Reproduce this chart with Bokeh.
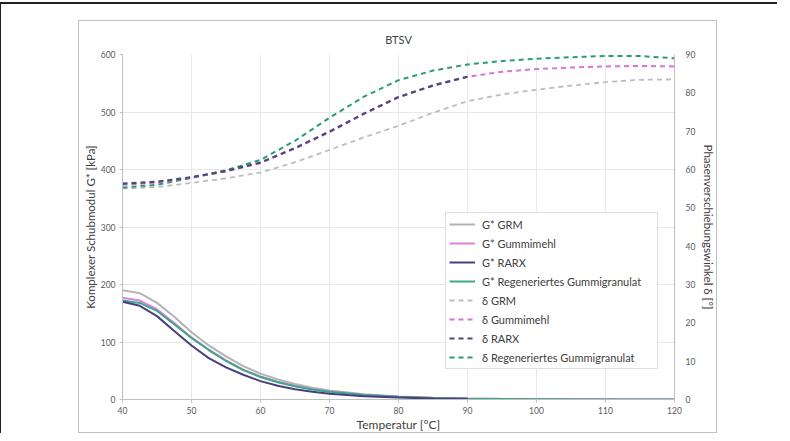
from bokeh.plotting import figure
from bokeh.models import Range1d, LinearAxis, Legend, LegendItem, SingleIntervalTicker, Spacer
from bokeh.layouts import row, column
from bokeh.embed import file_html
from bokeh.resources import INLINE

# ---- data ----
temp_g = [40, 42.5, 45, 47.5, 50, 52.5, 55, 57.5, 60, 62.5, 65, 67.5, 70, 75, 80, 85, 90, 95, 100, 105, 110, 115, 120]
g_grm = [190, 185, 168, 144, 117, 94, 75, 58, 45, 35, 27, 20.5, 15.5, 9, 5.2, 3, 1.8, 1.1, 0.7, 0.4, 0.3, 0.2, 0.1]
g_gummimehl = [177, 172, 157, 133, 108, 87, 68, 52, 40, 31, 23.5, 18, 14, 8.2, 4.7, 2.7, 1.6, 1.0, 0.6, 0.4, 0.25, 0.15, 0.1]
g_regen = [172, 168, 154, 131, 107, 86, 67, 51, 39, 30, 23, 17.5, 13.5, 8, 4.6, 2.6, 1.5, 0.9, 0.6, 0.35, 0.2, 0.15, 0.1]
temp_rarx = [40, 42.5, 45, 47.5, 50, 52.5, 55, 57.5, 60, 62.5, 65, 67.5, 70, 75, 80, 85, 90]
g_rarx = [170, 163, 145, 119, 94, 72, 56, 43, 32, 24, 18, 13.5, 10, 5.8, 3.3, 1.9, 1.1]

temp_d = [40, 45, 50, 55, 60, 65, 70, 75, 80, 85, 90, 95, 100, 105, 110, 115, 120]
d_grm = [55.0, 55.4, 56.5, 57.7, 59.2, 61.9, 65.1, 68.4, 71.4, 74.8, 77.8, 79.6, 80.8, 81.9, 82.8, 83.4, 83.5]
d_gummimehl = [56.0, 56.6, 57.9, 59.5, 61.7, 65.5, 69.7, 74.5, 78.8, 82.0, 84.2, 85.5, 86.2, 86.6, 86.9, 87.0, 86.9]
d_regen = [55.3, 56.0, 57.8, 59.8, 62.5, 67.5, 73.5, 79.0, 83.3, 85.8, 87.4, 88.3, 88.9, 89.3, 89.6, 89.6, 89.0]
temp_d_rarx = [40, 45, 50, 55, 60, 65, 70, 75, 80, 85, 90]
d_rarx = [56.3, 56.8, 58.0, 59.6, 61.8, 65.6, 69.9, 74.6, 78.9, 81.9, 84.2]

labels_g = ["G* GRM", "G* Gummimehl", "G* RARX", "G* Regeneriertes Gummigranulat"]
labels_d = ["\u03b4 GRM", "\u03b4 Gummimehl", "\u03b4 RARX", "\u03b4 Regeneriertes Gummigranulat"]

c_grm = "#b3b3b3"
c_gm = "#de7fe0"
c_rarx = "#4a3f7e"
c_regen = "#3aa88a"
c_dgrm = "#bdbdbd"
c_dgm = "#d674d8"
c_drarx = "#4b4a78"
c_dregen = "#2a9d72"

FONT = "Lato"

p = figure(frame_width=550, frame_height=343, x_range=Range1d(40, 120), y_range=Range1d(0, 600),
           output_backend="svg", toolbar_location=None,
           min_border_left=43, min_border_right=43, min_border_top=33, min_border_bottom=35,
           title="BTSV", styles={"border": "1px solid #bfbfbf"})
p.extra_y_ranges = {"delta": Range1d(0, 90)}

p.title.align = "center"
p.title.text_font = FONT
p.title.text_font_size = "11px"
p.title.text_font_style = "normal"
p.title.text_color = "#404040"
p.title.standoff = 18

p.outline_line_color = None
p.background_fill_color = "white"

for ax in [p.xaxis[0], p.yaxis[0]]:
    ax.major_label_text_font = FONT
    ax.major_label_text_font_size = "8.5px"
    ax.major_label_text_color = "#595959"
    ax.axis_label_text_font = FONT
    ax.axis_label_text_font_style = "normal"
    ax.axis_label_text_color = "#404040"
    ax.axis_line_color = "#bfbfbf"
    ax.major_tick_line_color = "#bfbfbf"
    ax.minor_tick_line_color = None
    ax.major_tick_in = 0
    ax.major_tick_out = 3

p.xaxis.ticker = SingleIntervalTicker(interval=10)
p.yaxis.ticker = SingleIntervalTicker(interval=100)
p.xaxis.axis_label = "Temperatur [\u00b0C]"
p.xaxis.axis_label_text_font_size = "12px"
p.xaxis.axis_label_standoff = 0
p.xaxis.major_label_standoff = 3
p.yaxis.axis_label = "Komplexer Schubmodul G* [kPa]"
p.yaxis.axis_label_text_font_size = "11.5px"
p.yaxis.axis_label_standoff = 1
p.yaxis.major_label_standoff = 3

ax_r = LinearAxis(y_range_name="delta", ticker=SingleIntervalTicker(interval=10),
                  axis_label="Phasenverschiebungswinkel \u03b4 [\u00b0]")
ax_r.major_label_text_font = FONT
ax_r.major_label_text_font_size = "8.5px"
ax_r.major_label_text_color = "#595959"
ax_r.major_label_standoff = 7
ax_r.major_tick_in = 0
ax_r.major_tick_out = 0
ax_r.axis_label_text_font = FONT
ax_r.axis_label_text_font_size = "11.5px"
ax_r.axis_label_text_font_style = "normal"
ax_r.axis_label_text_color = "#404040"
ax_r.axis_label_standoff = 4
ax_r.axis_line_color = "#bfbfbf"
ax_r.major_tick_line_color = None
ax_r.minor_tick_line_color = None
p.add_layout(ax_r, "right")

p.xgrid.grid_line_color = "#e8e8e8"
p.ygrid.grid_line_color = "#e8e8e8"

# G* curves
r1 = p.line(temp_g, g_grm, line_color=c_grm, line_width=2)
r2 = p.line(temp_g, g_gummimehl, line_color=c_gm, line_width=2)
r4 = p.line(temp_g, g_regen, line_color=c_regen, line_width=2)
r3 = p.line(temp_rarx, g_rarx, line_color=c_rarx, line_width=2)

# delta curves
d1 = p.line(temp_d, d_grm, line_color=c_dgrm, line_width=1.8, line_dash="5 4", y_range_name="delta")
d4 = p.line(temp_d, d_regen, line_color=c_dregen, line_width=2, line_dash="5 4", y_range_name="delta")
d2 = p.line(temp_d, d_gummimehl, line_color=c_dgm, line_width=2, line_dash="5 4", y_range_name="delta")
d3 = p.line(temp_d_rarx, d_rarx, line_color=c_drarx, line_width=2.2, line_dash="5 4", y_range_name="delta")

items = [LegendItem(label=l, renderers=[r]) for l, r in zip(labels_g + labels_d, [r1, r2, r3, r4, d1, d2, d3, d4])]
legend = Legend(items=items, location=(323, 30), orientation="vertical")
legend.label_text_font = FONT
legend.label_text_font_size = "11px"
legend.label_text_color = "#404040"
legend.glyph_width = 26
legend.glyph_height = 16
legend.label_height = 16
legend.label_width = 172
legend.spacing = 3
legend.padding = 3
legend.margin = 0
legend.label_standoff = 7
legend.border_line_color = "#bfbfbf"
legend.background_fill_alpha = 1
p.add_layout(legend, "center")

layout = row(Spacer(width=77, height=10),
             column(Spacer(width=10, height=16), p),
             Spacer(width=60, height=10),
             styles={"border-left": "2px solid #222", "border-top": "2px solid #222",
                     "margin-left": "-1px", "margin-top": "2px"})

open("out.html", "w").write(file_html(layout, INLINE))
